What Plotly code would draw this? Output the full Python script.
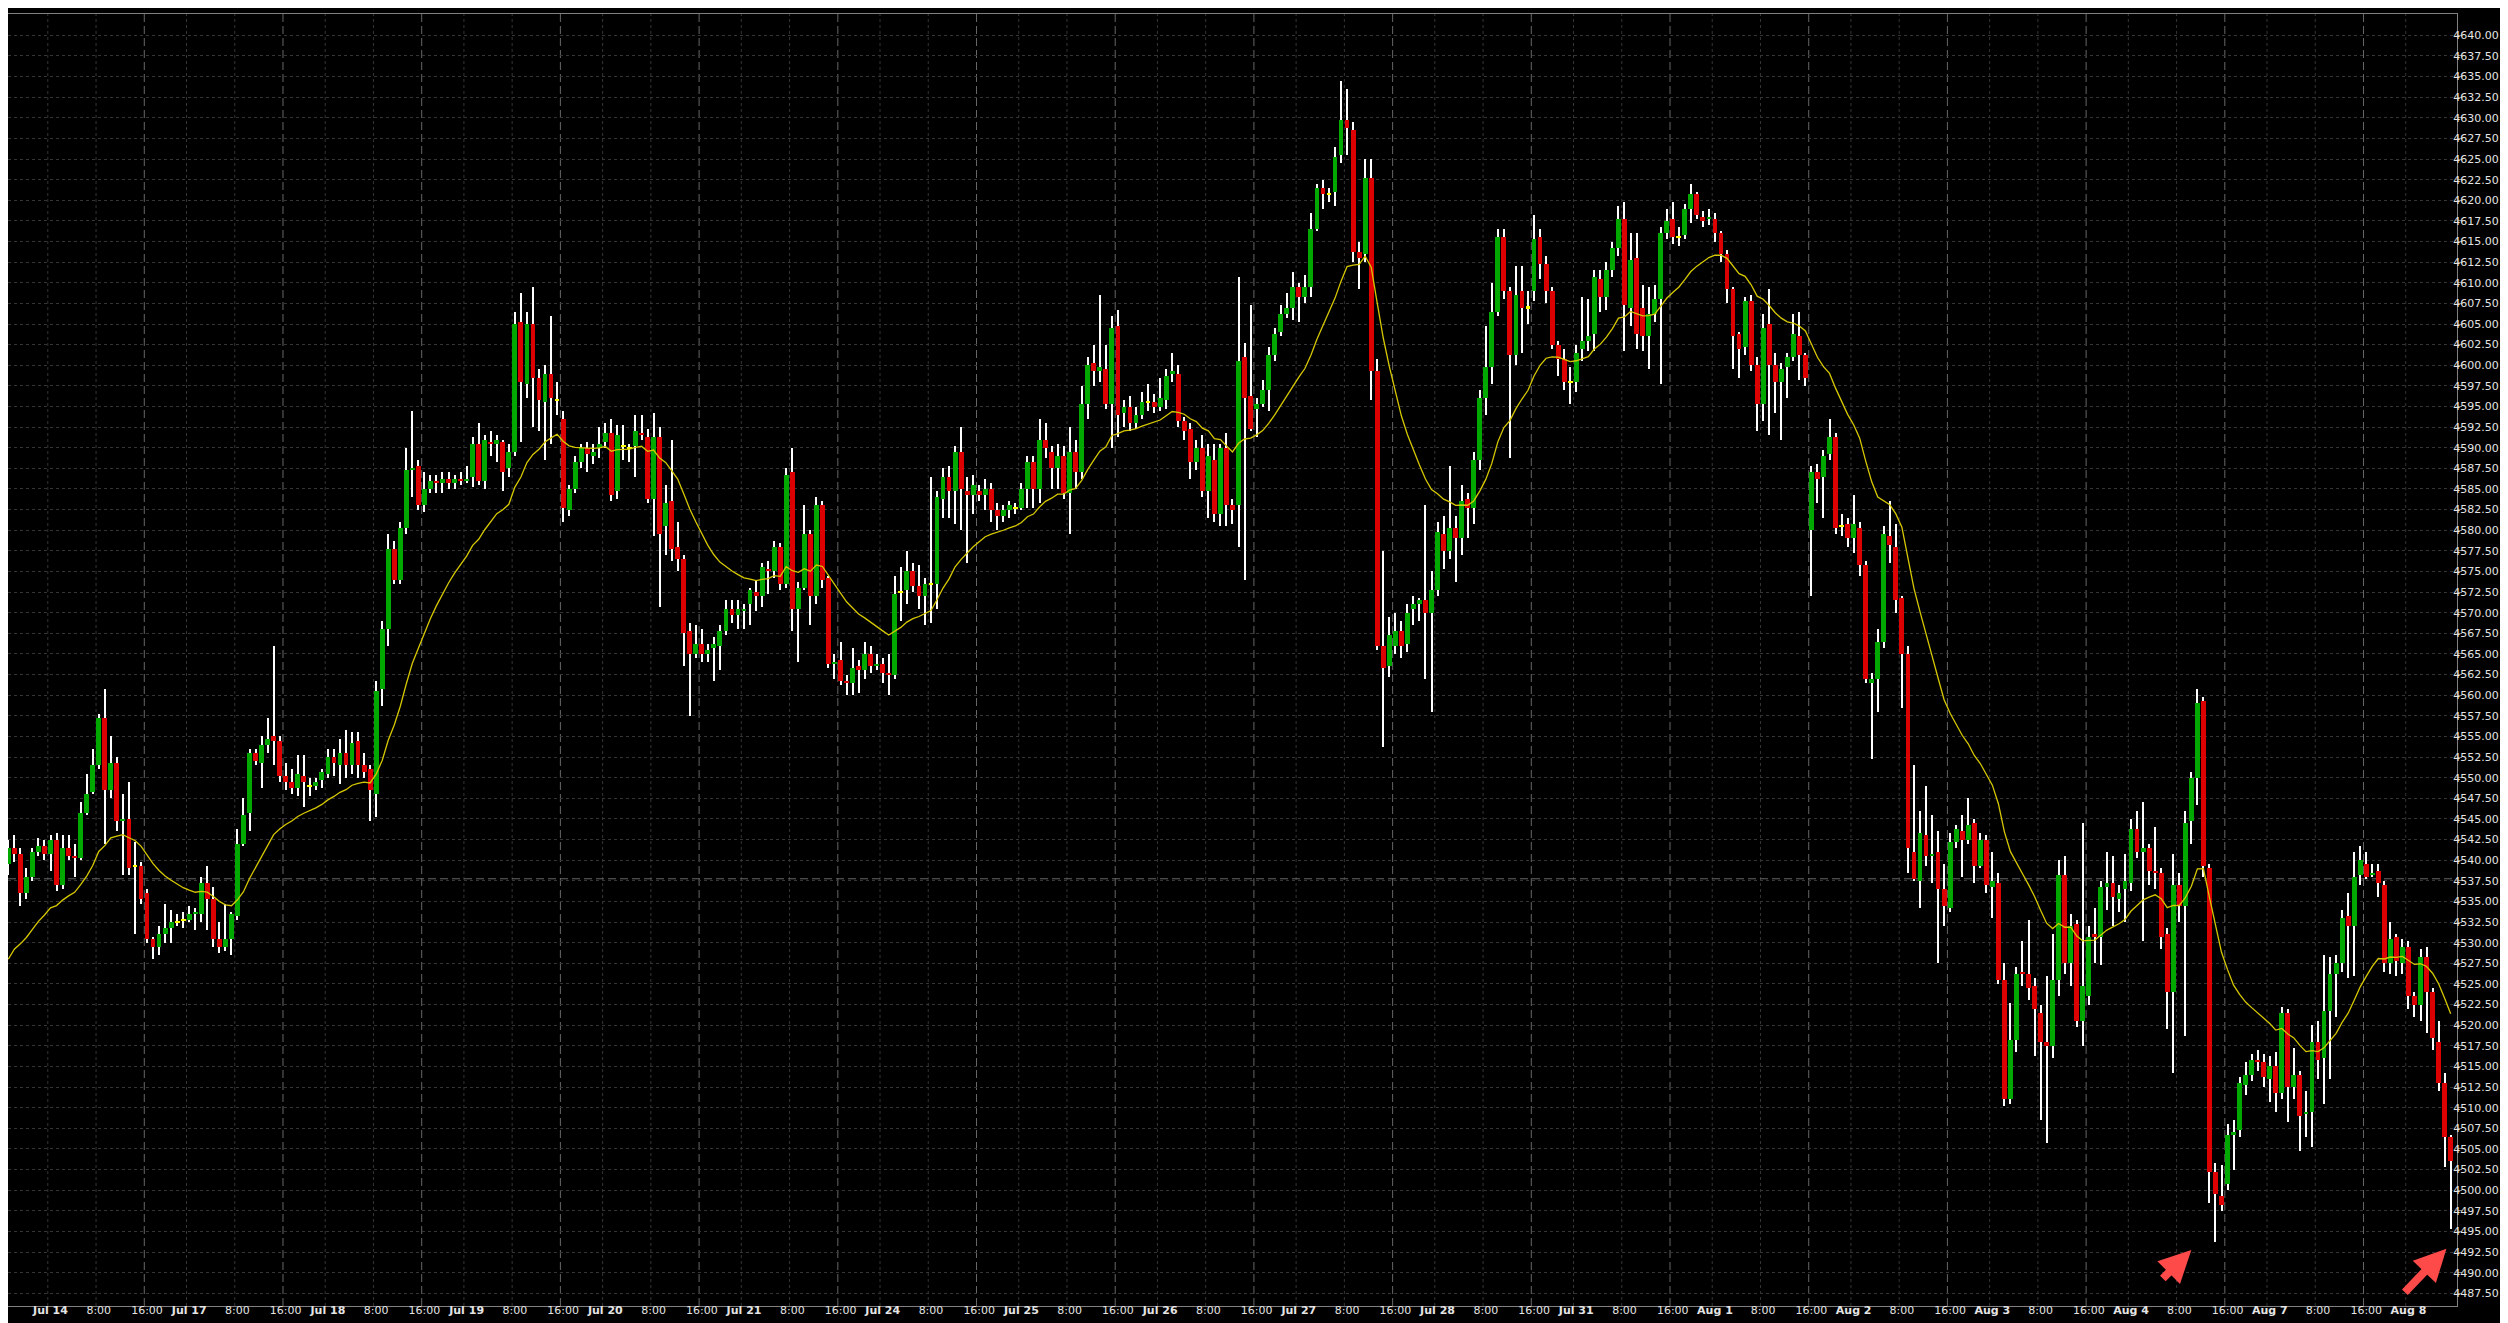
import plotly.graph_objects as go

# ---------------- data (hourly bars) ----------------
opens = [
4539.5,4541.5,4540.75,4536.0,4538.0,4541.0,4541.75,4540.75,4542.5,4537.0,
4541.5,4540.5,4540.25,4545.75,4548.25,4551.5,4557.25,4548.5,4551.75,4544.75,
4545.0,4539.25,4539.25,4536.0,4530.5,4529.5,4531.0,4531.75,4532.5,4532.75,
4532.75,4533.5,4533.5,4537.25,4535.25,4530.5,4529.5,4530.5,4533.25,4542.0,
4545.75,4553.0,4551.75,4554.0,4555.0,4554.5,4550.25,4549.5,4548.75,4550.25,
4549.0,4549.0,4549.75,4550.5,4552.5,4551.5,4553.0,4551.5,4554.5,4551.5,
4551.0,4548.0,4560.75,4568.0,4577.75,4574.0,4580.25,4587.25,4587.75,4583.0,
4585.0,4586.0,4585.75,4586.25,4585.75,4586.25,4586.0,4586.5,4590.5,4586.0,
4590.75,4590.5,4590.75,4587.5,4589.5,4605.25,4597.75,4605.0,4598.5,4595.5,
4599.0,4595.75,4593.5,4582.5,4585.0,4588.25,4590.0,4589.0,4590.0,4590.75,
4591.75,4584.75,4590.25,4590.0,4590.25,4591.75,4591.25,4583.75,4591.25,4580.5,
4583.5,4578.0,4576.5,4567.75,4565.0,4566.25,4565.0,4565.75,4566.0,4567.75,
4570.5,4569.75,4570.25,4571.0,4572.5,4572.0,4575.25,4575.0,4578.0,4573.5,
4587.0,4570.5,4573.0,4579.5,4572.0,4583.0,4574.25,4563.75,4564.25,4561.75,
4561.5,4563.5,4563.0,4565.0,4563.5,4563.75,4562.75,4562.5,4572.5,4572.75,
4575.0,4573.25,4572.0,4573.5,4573.5,4583.75,4586.5,4584.75,4589.5,4584.75,
4584.25,4584.75,4584.25,4585.0,4582.5,4581.75,4582.5,4582.75,4582.75,4585.0,
4588.25,4585.0,4591.0,4589.5,4587.5,4589.0,4584.5,4589.5,4587.0,4595.25,
4600.25,4599.25,4599.5,4595.25,4604.75,4594.25,4595.0,4593.0,4594.0,4595.5,
4595.5,4595.0,4595.75,4599.0,4599.0,4593.25,4592.25,4588.25,4590.0,4584.75,
4588.5,4582.0,4590.0,4583.0,4583.0,4601.0,4596.25,4594.75,4595.25,4597.0,
4601.25,4604.0,4606.25,4607.0,4609.5,4608.25,4609.5,4616.5,4621.5,4620.75,
4621.0,4625.5,4629.75,4628.5,4613.75,4613.5,4622.75,4599.25,4566.0,4563.5,
4566.0,4567.75,4566.25,4570.5,4571.0,4571.5,4570.0,4572.75,4579.5,4577.5,
4580.25,4579.0,4583.75,4582.75,4588.5,4596.0,4599.75,4606.5,4615.5,4609.0,
4601.25,4609.0,4607.0,4609.0,4615.5,4612.25,4609.0,4602.5,4600.75,4598.0,
4598.0,4602.0,4603.0,4603.75,4610.5,4608.25,4611.5,4614.25,4617.75,4607.0,
4613.0,4607.0,4603.5,4606.25,4608.0,4616.0,4617.75,4615.5,4615.75,4619.0,
4620.75,4618.0,4617.75,4617.75,4616.0,4613.5,4609.25,4603.75,4602.25,4607.75,
4600.0,4595.25,4605.0,4600.0,4598.0,4599.75,4601.0,4603.5,4601.25,4580.0,
4587.0,4586.5,4589.25,4591.25,4580.5,4580.75,4579.0,4580.25,4575.75,4561.5,
4562.0,4566.5,4579.25,4578.0,4571.75,4565.0,4541.0,4537.5,4543.0,4540.5,
4541.0,4536.5,4534.25,4542.25,4543.5,4542.5,4544.5,4539.25,4542.5,4536.75,
4537.25,4525.5,4511.0,4518.25,4526.5,4526.25,4524.75,4521.5,4518.0,4517.5,
4525.5,4538.25,4527.5,4532.25,4520.5,4523.5,4531.0,4530.75,4536.75,4537.25,
4535.25,4536.5,4537.25,4543.75,4541.0,4541.5,4538.75,4538.5,4531.0,4524.0,
4537.0,4534.5,4544.75,4550.0,4559.25,4539.0,4502.25,4499.25,4500.75,4506.75,
4507.25,4512.75,4514.0,4515.75,4515.5,4513.5,4515.0,4511.75,4521.5,4512.5,
4514.0,4509.25,4509.5,4518.0,4516.0,4521.75,4526.25,4527.5,4533.25,4532.0,
4538.25,4539.5,4538.25,4538.75,4537.0,4527.5,4530.75,4527.5,4529.5,4523.5,
4522.5,4528.25,4524.0,4518.0,4513.0,4506.5,
]

closes = [
4541.5,4540.75,4536.0,4538.0,4541.0,4541.75,4540.75,4542.5,4537.0,4541.5,
4540.5,4540.25,4545.75,4548.0,4551.5,4557.25,4548.5,4551.75,4544.75,4545.0,
4539.0,4539.25,4535.25,4530.5,4529.5,4531.0,4531.75,4532.5,4532.5,4532.75,
4533.5,4533.75,4537.25,4535.25,4530.5,4529.5,4530.5,4533.5,4542.0,4545.5,
4553.0,4552.0,4554.0,4554.75,4554.5,4550.25,4549.5,4548.75,4550.5,4549.5,
4549.0,4549.5,4550.75,4552.5,4551.75,4553.0,4551.5,4554.25,4551.5,4550.75,
4548.5,4560.5,4568.0,4577.75,4574.0,4580.25,4587.25,4587.5,4583.0,4585.0,
4586.0,4585.75,4586.25,4585.75,4586.25,4586.0,4586.25,4590.5,4586.0,4591.0,
4590.5,4591.0,4587.0,4589.5,4605.0,4598.0,4605.0,4598.5,4595.75,4599.0,
4596.0,4595.75,4582.75,4585.0,4588.25,4590.0,4589.25,4589.5,4590.5,4591.75,
4584.25,4591.5,4590.25,4590.0,4592.0,4591.5,4583.75,4591.25,4579.5,4583.25,
4577.75,4576.5,4567.5,4565.0,4566.25,4565.0,4565.5,4566.25,4567.75,4570.5,
4569.75,4570.5,4570.5,4572.75,4572.0,4575.5,4575.0,4578.0,4573.5,4586.75,
4570.5,4573.0,4579.5,4572.0,4583.0,4574.0,4563.75,4564.0,4561.75,4561.5,
4563.25,4563.0,4565.0,4563.5,4563.75,4562.75,4562.5,4572.25,4572.5,4575.0,
4573.25,4572.0,4573.5,4573.5,4584.0,4586.5,4584.75,4589.5,4585.0,4584.25,
4585.5,4584.25,4585.0,4582.5,4581.75,4582.5,4583.0,4582.75,4585.0,4588.25,
4585.0,4591.0,4590.0,4587.5,4589.0,4584.5,4589.5,4587.0,4595.25,4600.0,
4599.25,4599.75,4595.25,4604.5,4594.0,4595.0,4593.0,4594.0,4595.5,4595.5,
4595.0,4596.0,4598.75,4599.25,4593.25,4592.0,4588.25,4590.0,4584.75,4589.0,
4582.0,4590.0,4583.0,4582.5,4600.5,4596.0,4592.25,4595.25,4597.0,4601.25,
4603.75,4606.25,4607.0,4609.5,4608.25,4609.5,4616.5,4621.5,4620.75,4620.75,
4625.25,4629.75,4628.75,4613.75,4613.0,4622.75,4599.25,4566.0,4563.25,4567.25,
4567.75,4566.0,4570.0,4571.0,4571.5,4570.0,4572.75,4579.75,4577.5,4580.25,
4579.0,4583.5,4582.75,4588.5,4596.0,4599.75,4606.5,4615.5,4609.0,4601.25,
4608.5,4607.0,4607.0,4615.25,4612.25,4609.0,4602.5,4600.75,4598.0,4598.0,
4601.5,4603.0,4603.5,4610.75,4608.25,4611.5,4614.25,4617.75,4607.25,4612.75,
4603.75,4603.5,4606.25,4608.0,4616.0,4617.5,4615.5,4615.5,4619.0,4620.75,
4618.25,4617.5,4618.0,4616.0,4613.5,4609.25,4603.5,4602.0,4607.75,4600.0,
4595.25,4604.5,4600.0,4598.0,4599.5,4601.0,4603.75,4601.25,4598.5,4587.0,
4586.25,4589.0,4591.25,4580.25,4580.5,4579.0,4580.75,4575.75,4562.0,4562.0,
4566.5,4579.5,4578.25,4571.5,4565.0,4541.5,4537.75,4543.25,4540.5,4540.75,
4536.5,4534.5,4542.25,4543.75,4542.5,4544.25,4539.25,4542.5,4537.0,4537.5,
4525.5,4511.0,4518.25,4526.25,4526.25,4524.5,4522.0,4518.0,4517.5,4525.5,
4538.25,4527.5,4532.0,4520.5,4524.75,4530.75,4530.75,4536.75,4537.25,4535.5,
4536.0,4537.5,4543.75,4541.0,4541.5,4538.75,4538.5,4530.75,4524.0,4537.0,
4534.5,4544.5,4550.0,4559.0,4539.25,4502.25,4499.5,4498.25,4506.75,4507.0,
4513.0,4514.0,4515.75,4515.5,4513.75,4515.0,4511.75,4521.5,4512.5,4514.0,
4509.0,4509.5,4518.0,4515.75,4521.75,4526.25,4527.5,4533.0,4532.0,4538.0,
4540.0,4538.0,4538.5,4537.25,4527.5,4530.5,4527.75,4529.5,4523.5,4522.5,
4528.25,4524.0,4518.5,4513.0,4506.5,4503.5,
]

highs = [
4542.5,4543.0,4541.5,4539.0,4541.5,4542.75,4542.5,4543.0,4543.25,4543.0,
4543.0,4542.0,4547.0,4550.5,4553.5,4557.75,4560.75,4555.0,4552.5,4548.0,
4549.5,4542.25,4539.75,4536.5,4530.75,4532.0,4534.75,4534.0,4533.5,4533.75,
4534.5,4534.25,4538.0,4539.25,4536.75,4532.5,4534.75,4533.75,4543.75,4547.5,
4553.5,4553.5,4555.0,4557.25,4566.0,4555.0,4551.75,4551.0,4552.75,4552.75,
4550.0,4550.0,4551.0,4553.5,4553.5,4554.75,4555.75,4555.5,4555.5,4553.0,
4551.5,4561.75,4569.0,4579.5,4578.75,4581.0,4590.0,4594.5,4588.5,4587.0,
4586.75,4586.75,4587.0,4587.0,4586.75,4587.0,4587.75,4591.25,4593.0,4591.5,
4592.0,4591.5,4591.0,4590.5,4606.5,4608.75,4606.5,4609.5,4599.5,4600.0,
4606.0,4598.0,4594.5,4585.5,4589.0,4590.5,4590.75,4590.5,4592.5,4593.0,
4593.5,4592.75,4592.75,4590.5,4594.0,4594.0,4592.25,4594.25,4592.5,4585.5,
4591.0,4581.0,4577.0,4568.75,4568.5,4568.0,4566.25,4567.0,4568.5,4571.5,
4571.5,4571.5,4571.0,4573.0,4574.0,4576.0,4576.25,4578.75,4578.5,4587.5,
4590.0,4573.75,4583.0,4580.0,4584.0,4583.5,4574.5,4565.0,4566.5,4562.5,
4565.75,4564.25,4566.5,4566.0,4565.0,4564.5,4565.0,4574.5,4575.5,4577.5,
4576.0,4575.75,4574.25,4586.5,4584.75,4587.5,4587.75,4590.25,4592.5,4586.5,
4586.75,4585.5,4586.25,4585.75,4583.25,4583.0,4583.5,4583.25,4585.75,4589.0,
4589.0,4593.5,4593.0,4590.25,4590.5,4590.25,4592.5,4591.0,4597.5,4601.0,
4602.5,4608.5,4602.5,4606.0,4606.75,4595.75,4596.25,4595.0,4596.75,4597.75,
4596.5,4598.5,4599.5,4601.5,4600.0,4593.75,4593.0,4591.0,4591.5,4590.5,
4590.5,4590.5,4591.75,4583.75,4610.75,4602.75,4607.25,4596.0,4598.25,4602.25,
4604.5,4607.25,4608.75,4611.25,4610.0,4611.0,4618.5,4622.0,4622.5,4621.5,
4626.5,4634.5,4633.5,4629.5,4615.0,4625.0,4625.0,4600.75,4577.5,4569.5,
4570.0,4569.0,4571.0,4572.0,4571.75,4583.0,4575.0,4581.0,4581.75,4587.75,
4581.75,4585.5,4584.5,4589.5,4597.0,4604.75,4610.0,4616.5,4616.5,4609.5,
4612.0,4612.0,4609.0,4618.25,4616.5,4613.25,4609.5,4603.0,4602.0,4599.75,
4602.5,4608.25,4608.0,4611.5,4611.5,4612.5,4615.0,4619.25,4619.75,4616.0,
4616.0,4609.75,4609.5,4609.75,4616.75,4619.0,4619.75,4616.75,4619.5,4622.0,
4621.0,4618.75,4619.0,4618.5,4616.25,4614.0,4609.5,4604.0,4608.25,4608.5,
4601.0,4606.25,4609.25,4601.5,4600.25,4601.5,4606.25,4606.5,4601.5,4587.75,
4588.0,4589.75,4593.5,4591.75,4582.0,4581.5,4584.25,4581.0,4576.25,4562.75,
4568.0,4580.5,4583.5,4580.75,4572.0,4566.0,4551.5,4546.0,4549.0,4545.5,
4543.5,4539.5,4543.25,4544.25,4545.5,4547.5,4545.0,4543.25,4543.0,4541.0,
4538.5,4527.5,4522.75,4527.0,4530.25,4532.75,4525.75,4522.5,4526.0,4531.0,
4540.0,4540.5,4533.5,4532.75,4544.5,4532.0,4534.25,4537.5,4541.0,4540.5,
4537.0,4540.75,4545.0,4546.0,4547.0,4542.0,4544.0,4539.0,4531.75,4540.75,
4538.5,4546.0,4550.75,4560.75,4559.75,4539.5,4503.25,4503.0,4508.0,4508.5,
4513.75,4515.5,4516.5,4517.0,4516.5,4516.25,4516.75,4522.25,4522.0,4517.25,
4514.5,4512.0,4520.0,4520.5,4528.5,4528.25,4528.5,4534.0,4536.0,4541.0,
4541.75,4541.0,4539.5,4539.5,4537.5,4532.5,4531.0,4530.5,4530.25,4524.0,
4529.25,4529.5,4524.5,4520.5,4514.25,4506.75,
]

lows = [
4538.25,4539.75,4534.5,4535.25,4537.5,4540.5,4540.0,4538.75,4536.25,4536.5,
4540.0,4538.0,4540.0,4545.5,4548.0,4551.0,4542.0,4547.5,4543.5,4538.25,
4538.25,4531.0,4534.75,4530.0,4528.0,4528.5,4530.0,4530.0,4532.0,4531.75,
4532.5,4531.5,4532.5,4531.5,4529.5,4528.75,4529.0,4528.5,4532.75,4541.75,
4543.5,4551.5,4548.75,4553.0,4551.5,4549.5,4548.5,4548.0,4547.75,4546.5,
4547.75,4548.5,4548.75,4550.0,4550.25,4549.25,4550.0,4550.5,4550.0,4550.0,
4544.75,4545.25,4558.75,4566.0,4573.5,4573.5,4579.5,4584.0,4582.5,4582.25,
4584.5,4584.5,4584.5,4585.0,4585.0,4585.5,4585.75,4585.25,4585.5,4585.0,
4589.0,4588.25,4584.75,4586.5,4589.0,4590.75,4596.0,4592.5,4592.0,4588.5,
4590.5,4594.0,4581.0,4581.75,4584.5,4587.5,4587.0,4588.0,4588.75,4590.0,
4583.5,4583.75,4588.5,4588.25,4586.5,4591.0,4583.25,4579.25,4570.75,4577.0,
4576.25,4575.0,4563.5,4557.5,4564.5,4564.0,4564.0,4561.75,4563.0,4567.25,
4568.75,4568.0,4568.0,4568.5,4570.25,4570.75,4572.25,4574.25,4572.75,4573.0,
4567.75,4564.0,4572.75,4568.5,4571.0,4573.0,4563.25,4562.0,4561.25,4560.0,
4560.0,4560.25,4562.0,4562.75,4563.0,4561.5,4560.0,4562.0,4569.0,4571.0,
4572.5,4570.5,4568.5,4568.75,4570.5,4581.5,4581.5,4580.75,4580.0,4576.0,
4582.0,4583.5,4582.5,4581.0,4580.0,4581.0,4581.5,4582.0,4582.5,4582.75,
4582.75,4583.25,4588.75,4585.0,4585.0,4583.75,4579.5,4585.0,4586.25,4593.5,
4597.5,4598.0,4594.75,4590.0,4591.25,4592.5,4592.0,4592.25,4593.5,4594.5,
4594.25,4594.5,4594.75,4598.0,4592.5,4591.0,4586.25,4587.25,4584.0,4581.5,
4581.0,4580.5,4580.5,4580.75,4578.0,4574.0,4592.0,4591.25,4595.0,4594.5,
4600.5,4603.5,4605.75,4605.5,4605.25,4607.5,4608.25,4616.25,4619.0,4619.75,
4619.25,4624.5,4625.5,4612.5,4609.25,4612.5,4595.75,4565.5,4553.75,4562.25,
4565.0,4564.5,4565.25,4568.5,4569.0,4562.0,4558.0,4572.0,4575.25,4576.5,
4573.75,4577.0,4579.0,4580.75,4587.25,4594.0,4597.75,4606.0,4608.0,4588.75,
4600.0,4601.5,4605.0,4607.75,4610.5,4607.5,4602.0,4598.75,4597.0,4595.25,
4596.75,4600.5,4601.75,4601.75,4606.5,4606.75,4610.75,4613.25,4601.75,4604.75,
4602.0,4601.75,4599.5,4605.25,4597.75,4615.25,4614.75,4614.5,4615.25,4617.25,
4617.75,4616.75,4617.0,4615.0,4612.5,4607.5,4599.5,4598.5,4601.25,4599.25,
4592.0,4593.25,4591.5,4594.25,4591.0,4596.0,4600.5,4598.25,4597.5,4572.0,
4583.25,4581.5,4588.5,4579.5,4579.25,4578.0,4577.25,4574.5,4561.5,4552.25,
4558.0,4565.75,4576.0,4570.0,4558.5,4538.5,4537.5,4534.25,4539.25,4537.25,
4527.5,4532.0,4533.75,4541.5,4538.0,4542.0,4537.25,4539.0,4536.0,4533.0,
4525.0,4510.25,4510.5,4516.75,4524.75,4523.0,4516.25,4508.5,4505.75,4516.0,
4523.5,4526.25,4524.75,4519.75,4517.5,4522.5,4527.5,4527.25,4534.0,4532.0,
4533.75,4532.5,4536.25,4540.25,4530.25,4537.0,4536.5,4529.25,4519.5,4514.25,
4532.5,4518.75,4542.0,4546.75,4538.0,4498.5,4493.75,4497.5,4500.0,4502.5,
4506.5,4511.5,4513.25,4514.5,4512.5,4510.75,4509.5,4511.0,4508.25,4511.0,
4504.75,4506.5,4505.25,4513.5,4510.5,4513.5,4521.0,4526.5,4525.75,4526.0,
4537.0,4537.75,4538.0,4535.5,4526.5,4526.25,4526.0,4526.25,4522.0,4521.0,
4520.5,4519.0,4517.0,4512.0,4502.75,4495.25,
]

day_labels = ["Jul 14", "Jul 17", "Jul 18", "Jul 19", "Jul 20", "Jul 21",
              "Jul 24", "Jul 25", "Jul 26", "Jul 27", "Jul 28", "Jul 31",
              "Aug 1", "Aug 2", "Aug 3", "Aug 4", "Aug 7", "Aug 8"]
time_labels = ["8:00", "16:00"]
first_day_bar = 7          # bar index of the first day's 0:00 bar
bars_per_day = 23
time_offsets = [8, 16]

price_tick_min = 4487.5
price_tick_max = 4640.0
price_tick_step = 2.5

ma_period = 20
ma_start = 4528.0          # moving-average level at the first visible bar
ref_level = 4537.75        # horizontal reference line

# ---------------- styling ----------------
GREEN = "#00A800"
RED = "#DC0000"
DOJI = "#FFFF00"
WICK = "#FFFFFF"
MA_COLOR = "#D6C800"
GRID = "#353535"
GRID_BRIGHT = "#666666"
TEXT = "#E4E4E4"
FONT = "DejaVu Sans"

n = len(closes)
idx = list(range(n))
highs = [max(h, o, c) for h, o, c in zip(highs, opens, closes)]
lows = [min(l, o, c) for l, o, c in zip(lows, opens, closes)]

# exponential moving average of the closes
alpha = 2.0 / (ma_period + 1)
ma = []
prev = ma_start
for i, c in enumerate(closes):
    if i > 0:
        prev = prev + alpha * (c - prev)
    ma.append(prev)

# candle bodies
base, height, colors = [], [], []
for o, c in zip(opens, closes):
    lo, hi = min(o, c), max(o, c)
    h = hi - lo
    if h < 0.25:
        mid = (lo + hi) / 2
        lo, h = mid - 0.125, 0.25
    base.append(lo)
    height.append(h)
    colors.append(GREEN if c > o else (RED if c < o else DOJI))

wick_base = lows
wick_len = [h - l for h, l in zip(highs, lows)]

fig = go.Figure()
# wicks (drawn as thin bars so the bodies can sit on top of them)
fig.add_trace(go.Bar(x=idx, y=wick_len, base=wick_base, width=0.17,
                     marker=dict(color=WICK, line=dict(width=0)),
                     hoverinfo="skip"))
# bodies
fig.add_trace(go.Bar(x=idx, y=height, base=base, width=0.8,
                     marker=dict(color=colors, line=dict(width=0)),
                     hoverinfo="skip"))
# moving average
fig.add_trace(go.Scatter(x=idx, y=ma, mode="lines",
                         line=dict(color=MA_COLOR, width=1.3), hoverinfo="skip"))

# x ticks
tickvals, ticktext, bright = [], [], []
for d, lab in enumerate(day_labels):
    start = first_day_bar + bars_per_day * d
    if start < n:
        tickvals.append(start)
        ticktext.append("<b>%s</b>" % lab)
    for off, tl in zip(time_offsets, time_labels):
        if start + off < n:
            tickvals.append(start + off)
            ticktext.append(tl)
            if tl == "16:00":
                bright.append(start + off)

shapes = []
for t in tickvals:
    is_b = t in bright
    shapes.append(dict(type="line", xref="x", yref="paper",
                       x0=t - 0.45, x1=t - 0.45, y0=0, y1=1, layer="below",
                       line=dict(color=GRID_BRIGHT if is_b else GRID, width=1,
                                 dash="8px,4px" if is_b else "3px,3px")))
shapes.append(dict(type="line", xref="paper", yref="y", x0=0, x1=1,
                   y0=ref_level, y1=ref_level, layer="below",
                   line=dict(color=GRID_BRIGHT, width=1, dash="8px,4px")))

ytickvals = []
v = price_tick_min
while v <= price_tick_max + 1e-9:
    ytickvals.append(round(v, 2))
    v += price_tick_step

fig.update_layout(
    width=2508, height=1323,
    margin=dict(l=0, r=59, t=6, b=25),
    paper_bgcolor="#000000", plot_bgcolor="#000000",
    showlegend=False, barmode="overlay", bargap=0,
    shapes=shapes,
    xaxis=dict(range=[-0.05, 406.05], tickvals=tickvals, ticktext=ticktext,
               showgrid=False, zeroline=False, ticks="",
               showline=True, mirror=True, linecolor="#808080", linewidth=1,
               tickfont=dict(family=FONT, size=11, color=TEXT),
               ticklabelstandoff=-6),
    yaxis=dict(side="right", range=[4485.96, 4642.58],
               tickvals=ytickvals, ticktext=["%.2f" % t for t in ytickvals],
               showgrid=True, gridcolor=GRID, griddash="3px,3px", gridwidth=1,
               zeroline=False, ticks="outside", ticklen=4, tickcolor="#808080",
               showline=True, mirror=True, linecolor="#808080", linewidth=1,
               tickfont=dict(family=FONT, size=11, color=TEXT),
               ticklabelstandoff=-11),
    annotations=[
        dict(x=362.0, y=4492.75, ax=-30, ay=30, xref="x", yref="y",
             showarrow=True, arrowhead=2, arrowsize=0.8, arrowwidth=8,
             arrowcolor="#FF4A4A", text=""),
        dict(x=404.3, y=4492.9, ax=-43, ay=45, xref="x", yref="y",
             showarrow=True, arrowhead=2, arrowsize=0.8, arrowwidth=8,
             arrowcolor="#FF4A4A", text=""),
    ],
)

fig.write_html("out.html")
